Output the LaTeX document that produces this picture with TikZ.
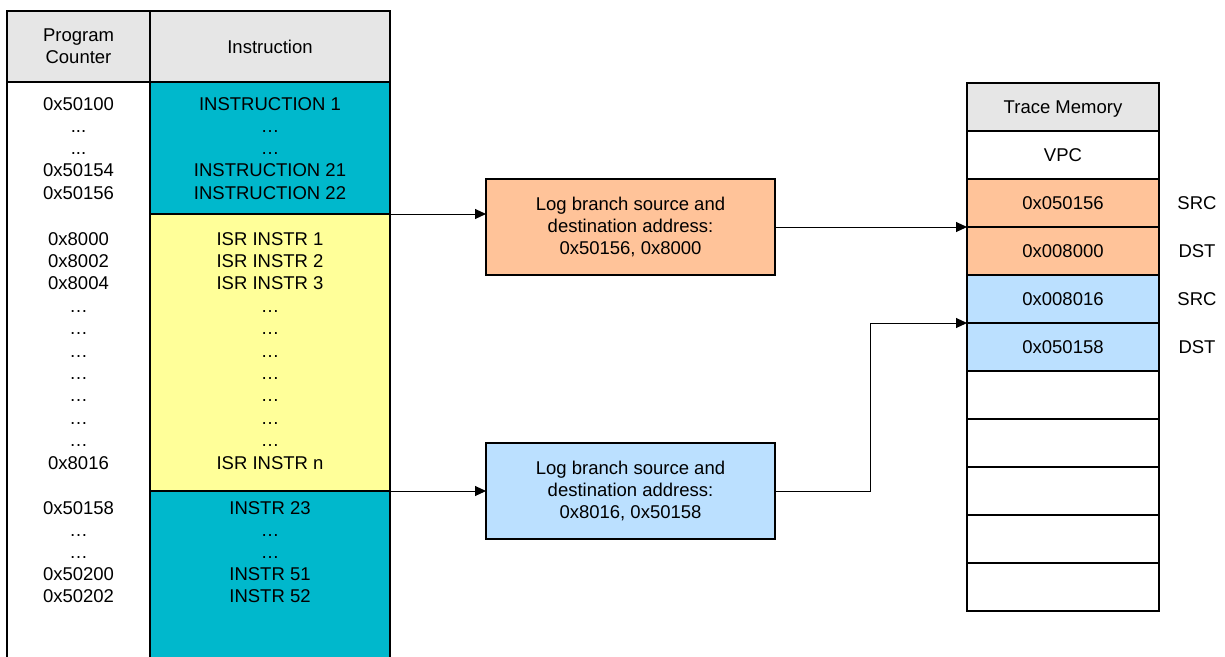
\documentclass[tikz,border=0pt]{standalone}
\usepackage{fontspec}
\setmainfont{Liberation Sans}
\usetikzlibrary{arrows.meta}
\definecolor{tealfill}{RGB}{0,184,204}
\definecolor{yellowfill}{RGB}{255,255,153}
\definecolor{orangefill}{RGB}{255,195,153}
\definecolor{bluefill}{RGB}{187,224,255}
\definecolor{headgray}{RGB}{230,230,230}
\newcommand\threedots{...}
\begin{document}
\begin{tikzpicture}[x=1pt,y=-1pt,font=\fontsize{18.5}{22.4}\selectfont,
  cell/.style={draw=black,line width=2pt,rectangle,inner sep=0pt,outer sep=0pt},
  txt/.style={anchor=base,inner sep=0pt},
  tmcell/.style={cell,minimum width=192pt,minimum height=48pt,text height=13.3pt,text depth=0pt},
  lbl/.style={inner sep=0pt,text height=13.3pt,text depth=0pt},
  conn/.style={line width=1pt,-{Triangle[length=11pt,width=10pt]}},
  logbox/.style={cell,minimum width=289pt,minimum height=96pt,align=center}]
\useasboundingbox (0,0) rectangle (1225,656);
\clip (0,0) rectangle (1225,656);
% left table
\node[cell,fill=headgray,minimum width=143pt,minimum height=71pt,align=center] (pch) at (78.5,46.5) {Program\\[-0.8pt]Counter};
\node[cell,fill=headgray,minimum width=240pt,minimum height=71pt] (insh) at (270,46.5) {Instruction};
\node[cell,fill=white,minimum width=143pt,minimum height=598pt] (pcc) at (78.5,381) {};
\node[cell,fill=tealfill,minimum width=240pt,minimum height=132pt] (isa) at (270,148) {};
\node[cell,fill=yellowfill,minimum width=240pt,minimum height=277pt] (isb) at (270,352.5) {};
\node[cell,fill=tealfill,minimum width=240pt,minimum height=189pt] (isc) at (270,585.5) {};
% texts
\foreach \t [count=\i] in {0x50100,\threedots,\threedots,0x50154,0x50156}
  \node[txt] (pca\i) at (78.5,{110+22.33*(\i-1)}) {\t};
\foreach \t [count=\i] in {INSTRUCTION 1,…,…,INSTRUCTION 21,INSTRUCTION 22}
  \node[txt] (ina\i) at (270,{110+22.33*(\i-1)}) {\t};
\foreach \t [count=\i] in {0x8000,0x8002,0x8004,…,…,…,…,…,…,…,0x8016}
  \node[txt] (pcb\i) at (78.5,{245+22.4*(\i-1)}) {\t};
\foreach \t [count=\i] in {ISR INSTR 1,ISR INSTR 2,ISR INSTR 3,…,…,…,…,…,…,…,ISR INSTR n}
  \node[txt] (inb\i) at (270,{245+22.4*(\i-1)}) {\t};
\foreach \t [count=\i] in {0x50158,…,…,0x50200,0x50202}
  \node[txt] (pcd\i) at (78.5,{514+22.2*(\i-1)}) {\t};
\foreach \t [count=\i] in {INSTR 23,…,…,INSTR 51,INSTR 52}
  \node[txt] (ind\i) at (270,{514+22.2*(\i-1)}) {\t};
% log boxes
\node[logbox,fill=orangefill] (orange) at (630.5,227) {Log branch source and\\destination address:\\0x50156, 0x8000};
\node[logbox,fill=bluefill] (blue) at (630.5,491) {Log branch source and\\destination address:\\0x8016, 0x50158};
% trace memory
\node[tmcell,fill=headgray] (tm0) at (1063,107) {Trace Memory};
\node[tmcell,fill=white] (tm1) at (1063,155) {VPC};
\node[tmcell,fill=orangefill] (tm2) at (1063,203) {0x050156};
\node[tmcell,fill=orangefill] (tm3) at (1063,251) {0x008000};
\node[tmcell,fill=bluefill] (tm4) at (1063,299) {0x008016};
\node[tmcell,fill=bluefill] (tm5) at (1063,347) {0x050158};
\foreach \i in {6,...,10}
  \node[tmcell,fill=white] (tm\i) at (1063,{155+48*(\i-1)}) {};
\node[lbl] (lab2) at (1197,203) {SRC};
\node[lbl] (lab3) at (1197,251) {DST};
\node[lbl] (lab4) at (1197,299) {SRC};
\node[lbl] (lab5) at (1197,347) {DST};
% connectors
\draw[conn] (isa.south east) -- (isa.south east -| orange.west);
\draw[conn] (orange.east) -- (tm2.south west);
\draw[conn] (isb.south east) -- (blue.west);
\coordinate (bend) at (870,491);
\draw[conn] (blue.east) -- (bend) |- (tm4.south west);
\end{tikzpicture}
\end{document}
